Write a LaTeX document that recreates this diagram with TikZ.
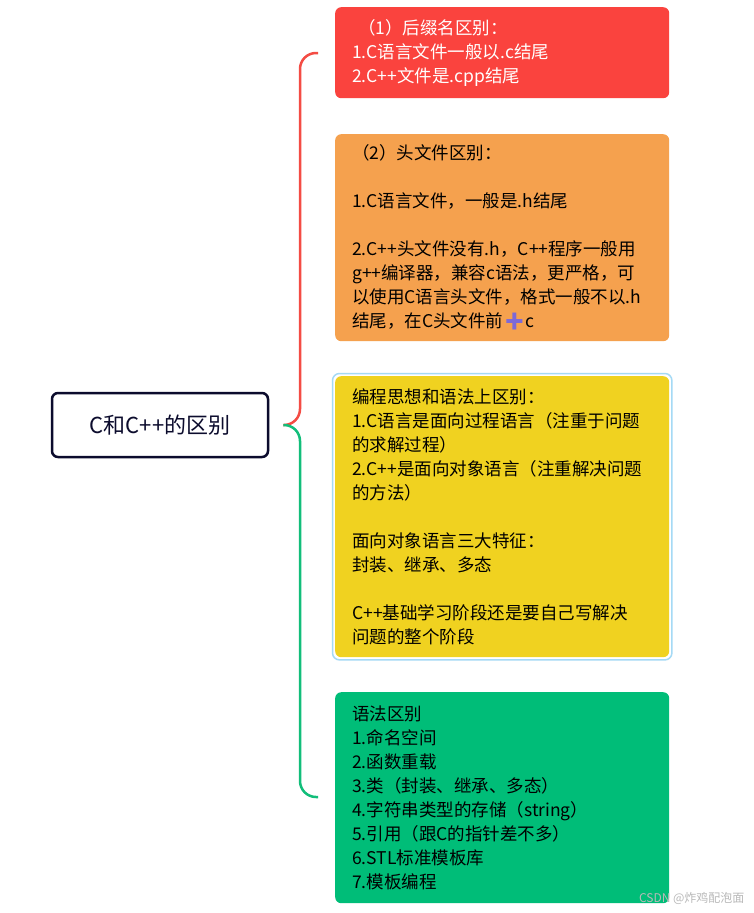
\documentclass[tikz,border=0pt]{standalone}
\usepackage{fontspec}
\setmainfont{Noto Sans CJK SC}
\newfontfamily\emojifont{Noto Emoji}
\usetikzlibrary{positioning}
\definecolor{mapred}{RGB}{250,67,62}
\definecolor{maporange}{RGB}{245,161,78}
\definecolor{mapyellow}{RGB}{240,210,32}
\definecolor{mapgreen}{RGB}{0,189,120}
\definecolor{mapnavy}{RGB}{12,12,45}
\definecolor{mapblue}{RGB}{165,218,245}
\definecolor{plusviolet}{RGB}{125,105,215}
\definecolor{linkred}{RGB}{244,76,68}
\definecolor{linkgreen}{RGB}{18,190,122}

\begin{document}
\begin{tikzpicture}[x=1pt, y=-1pt,
    leaf/.style={anchor=north west, rounded corners=6pt, minimum width=334pt,
      text width=300pt, align=left, inner sep=0pt, text=black,
      font=\fontsize{17.5}{24}\selectfont},
    bracket/.style={line width=2.5pt, rounded corners=16pt}]
    \useasboundingbox (0,0) rectangle (754,913);
    \fill[white] (0,0) rectangle (754,913);
    % root
    \node[draw=mapnavy, line width=2.5pt, rounded corners=6pt, minimum width=216pt,
      minimum height=64pt, font=\fontsize{22}{24}\selectfont, text=mapnavy] (root) at (160,425) {C和C++的区别};
    % leaves
    \node[leaf, fill=mapred, text=white, minimum height=91pt] (suffix) at (335,7)
      {\ （1）后缀名区别：\\1.C语言文件一般以.c结尾\\2.C++文件是.cpp结尾};
    \node[leaf, fill=maporange, minimum height=207pt] (header) at (335,134)
      {（2）头文件区别：\\[24pt]1.C语言文件，一般是.h结尾\\[24pt]2.C++头文件没有.h，C++程序一般用\\g++编译器，兼容c语法，更严格，可\\以使用C语言头文件，格式一般不以.h\\结尾，在C头文件前{\emojifont\color{plusviolet}➕}c};
    \node[leaf, fill=mapyellow, minimum height=281pt] (paradigm) at (335,376)
      {编程思想和语法上区别：\\1.C语言是面向过程语言（注重于问题\\的求解过程）\\2.C++是面向对象语言（注重解决问题\\的方法）\\[24pt]面向对象语言三大特征：\\封装、继承、多态\\[24pt]C++基础学习阶段还是要自己写解决\\问题的整个阶段};
    \draw[mapblue, line width=1.5pt, rounded corners=7pt]
      ([xshift=-2.5pt,yshift=2.5pt]paradigm.north west) rectangle ([xshift=2.5pt,yshift=-2.5pt]paradigm.south east);
    \node[leaf, fill=mapgreen, minimum height=211pt] (syntax) at (335,692)
      {语法区别\\1.命名空间\\2.函数重载\\3.类（封装、继承、多态）\\4.字符串类型的存储（string）\\5.引用（跟C的指针差不多）\\6.STL标准模板库\\7.模板编程};
    % brackets
    \coordinate (fork) at ([xshift=14pt]root.east);
    \coordinate (redtip) at (318,53);
    \coordinate (greentip) at (318,797);
    \draw[bracket, linkred] (fork) -| ([xshift=-18pt]redtip) -- (redtip);
    \draw[bracket, linkgreen] (fork) -| ([xshift=-18pt]greentip) -- (greentip);
    \node[anchor=east, text=gray!55, font=\fontsize{12}{14}\selectfont] (mark) at (748,898) {CSDN @炸鸡配泡面};
\end{tikzpicture}
\end{document}
